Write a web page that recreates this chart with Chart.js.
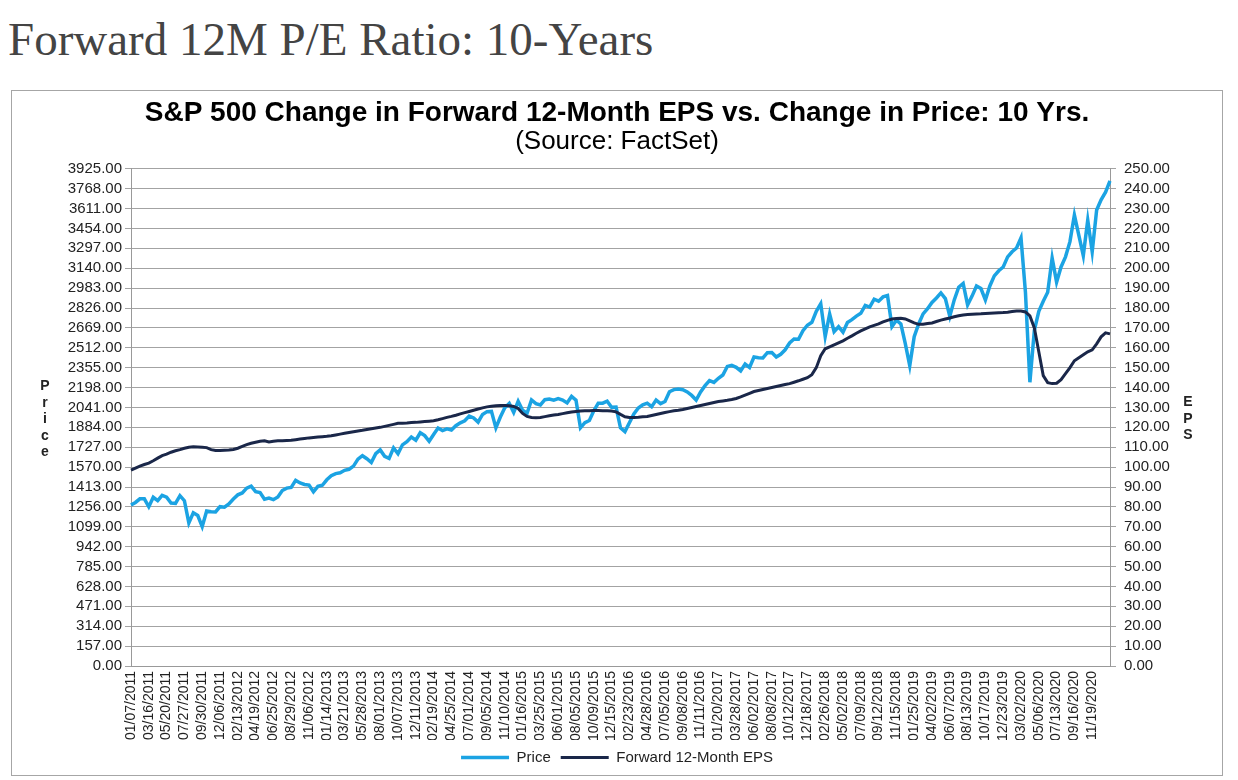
<!DOCTYPE html>
<html>
<head>
<meta charset="utf-8">
<script src="https://cdn.jsdelivr.net/npm/chart.js@4.4.1/dist/chart.umd.min.js"></script>
<style>
  body { margin: 0; background: #fff; width: 1238px; height: 780px; overflow: hidden; position: relative; font-family: "Liberation Sans", Arial, sans-serif; }
  #header { position: absolute; left: 8px; top: 12px; font-family: "Liberation Serif", serif; font-size: 47px; color: #444; white-space: nowrap; }
  #box { position: absolute; left: 11px; top: 90px; width: 1210px; height: 684px; border: 1px solid #a6a6a6; }
  #chartCanvas { position: absolute; left: 0; top: 0; }
  .vlabel { position: absolute; font-weight: bold; font-size: 14px; line-height: 16.5px; text-align: center; color: #222; width: 14px; }
</style>
</head>
<body>
<div id="header">Forward 12M P/E Ratio: 10-Years</div>
<div id="box"><canvas id="chartCanvas" width="1210" height="684"></canvas></div>
<div class="vlabel" style="left:38px; top:377px;">P<br>r<br>i<br>c<br>e</div>
<div class="vlabel" style="left:1181px; top:393px;">E<br>P<br>S</div>
<script>
// tick dates on the x axis, one every 4 samples
const tickDates = [
  "01/07/2011", "03/16/2011", "05/20/2011", "07/27/2011", "09/30/2011", "12/06/2011",
  "02/13/2012", "04/19/2012", "06/25/2012", "08/29/2012", "11/06/2012",
  "01/14/2013", "03/21/2013", "05/28/2013", "08/01/2013", "10/07/2013", "12/11/2013",
  "02/19/2014", "04/25/2014", "07/01/2014", "09/05/2014", "11/10/2014",
  "01/16/2015", "03/25/2015", "06/01/2015", "08/05/2015", "10/09/2015", "12/15/2015",
  "02/23/2016", "04/28/2016", "07/05/2016", "09/08/2016", "11/11/2016",
  "01/20/2017", "03/28/2017", "06/02/2017", "08/08/2017", "10/12/2017", "12/18/2017",
  "02/26/2018", "05/02/2018", "07/09/2018", "09/12/2018", "11/15/2018",
  "01/25/2019", "04/02/2019", "06/07/2019", "08/13/2019", "10/17/2019", "12/23/2019",
  "03/02/2020", "05/06/2020", "07/13/2020", "09/16/2020", "11/19/2020"
];
const samplesPerTick = 4;

// S&P 500 price (left axis)
const priceValues = [
  1271, 1291, 1320, 1320,  1257, 1332, 1305, 1347,  1333, 1286, 1284, 1345,
  1305, 1130, 1210, 1188,  1100, 1224, 1218, 1216,  1258, 1254, 1280, 1318,
  1351, 1366, 1404, 1419,  1376, 1369, 1316, 1325,  1313, 1334, 1385, 1404,
  1410, 1465, 1445, 1433,  1428, 1375, 1418, 1427,  1470, 1502, 1519, 1525,
  1545, 1553, 1578, 1633,  1660, 1636, 1606, 1676,  1706, 1655, 1639, 1722,
  1676, 1746, 1770, 1807,  1782, 1841, 1819, 1774,  1828, 1878, 1858, 1872,
  1863, 1897, 1920, 1936,  1973, 1958, 1925, 1986,  2008, 2010, 1880, 1965,
  2039, 2073, 2002, 2090,  2019, 1995, 2100, 2071,  2061, 2102, 2108, 2099,
  2111, 2100, 2077, 2128,  2099, 1880, 1921, 1938,  2014, 2075, 2075, 2090,
  2043, 2044, 1880, 1850,  1921, 1989, 2037, 2061,  2075, 2047, 2099, 2071,
  2088, 2165, 2182, 2186,  2181, 2164, 2136, 2100,  2164, 2213, 2253, 2239,
  2271, 2297, 2365, 2373,  2358, 2329, 2384, 2357,  2439, 2433, 2432, 2473,
  2474, 2439, 2461, 2496,  2550, 2581, 2579, 2647,  2690, 2713, 2800, 2860,
  2600, 2779, 2640, 2678,  2635, 2712, 2734, 2762,  2784, 2846, 2833, 2896,
  2880, 2914, 2925, 2680,  2730, 2700, 2545, 2370,  2600, 2700, 2780, 2820,
  2870, 2905, 2945, 2900,  2760, 2890, 2990, 3020,  2850, 2920, 3000, 2980,
  2890, 3000, 3080, 3120,  3150, 3230, 3270, 3300,  3380, 2950, 2240, 2650,
  2800, 2880, 2950, 3220,  3030, 3150, 3230, 3350,  3560, 3400, 3240, 3520,
  3270, 3600, 3680, 3740,  3830
];

// Forward 12-month EPS (right axis)
const epsValues = [
  98.5, 99.5, 100.5, 101.3,  102, 103.2, 104.5, 105.8,  106.5, 107.5, 108.2, 108.8,
  109.5, 110, 110.2, 110.1,  110, 109.8, 108.8, 108.4,  108.4, 108.5, 108.6, 108.9,
  109.5, 110.4, 111.3, 112,  112.5, 113, 113.2, 112.6,  113, 113.2, 113.3, 113.4,
  113.5, 113.8, 114.1, 114.4,  114.7, 114.9, 115.1, 115.3,  115.5, 115.8, 116.2, 116.6,
  117, 117.4, 117.8, 118.2,  118.5, 118.9, 119.3, 119.7,  120, 120.5, 121, 121.5,
  122, 122.1, 122.2, 122.4,  122.5, 122.7, 122.9, 123.1,  123.3, 123.8, 124.4, 125,
  125.5, 126.1, 126.8, 127.4,  128, 128.6, 129.2, 129.8,  130.3, 130.6, 130.9, 131,
  131, 130.8, 130.5, 129.5,  127, 125.5, 125, 124.8,  125, 125.4, 125.8, 126.2,
  126.5, 126.9, 127.3, 127.7,  128, 128.2, 128.3, 128.4,  128.5, 128.5, 128.4, 128.3,
  128.2, 127.8, 126.5, 125.3,  125, 125, 125.1, 125.3,  125.5, 126, 126.5, 127,
  127.5, 127.9, 128.3, 128.6,  129, 129.5, 130, 130.5,  131, 131.5, 132, 132.5,
  133, 133.3, 133.6, 134,  134.5, 135.3, 136.2, 137.1,  138, 138.5, 139, 139.5,
  140, 140.5, 141, 141.5,  142, 142.7, 143.4, 144.2,  145, 146.5, 150, 156,
  159.5, 160.5, 161.5, 162.5,  163.5, 164.8, 166, 167.3,  168.5, 169.5, 170.5, 171.3,
  172, 173, 173.8, 174.5,  174.7, 174.8, 174.5, 173.5,  172.5, 171.8, 171.8, 172.2,
  172.5, 173.2, 173.9, 174.5,  175, 175.6, 176.1, 176.5,  176.7, 176.9, 177, 177.1,
  177.3, 177.4, 177.5, 177.6,  177.7, 177.9, 178.2, 178.5,  178.5, 178, 176, 170,
  158, 146, 142.5, 142,  142.2, 144, 147, 150,  153.5, 155, 156.5, 158,
  159, 162, 165.5, 167.5,  167
];

const labels = priceValues.map((v, i) =>
  i % samplesPerTick === 0 ? (tickDates[i / samplesPerTick] || "") : "");

Chart.defaults.font.family = '"Liberation Sans", Arial, sans-serif';
Chart.defaults.color = "#222";

const priceColor = "#1ba3e3";
const epsColor = "#1a2749";
const gridColor = "#a3a3a3";

new Chart(document.getElementById("chartCanvas"), {
  type: "line",
  data: {
    labels: labels,
    datasets: [
      {
        label: "Price",
        data: priceValues,
        yAxisID: "yPrice",
        borderColor: priceColor,
        backgroundColor: priceColor,
        borderWidth: 3.5,
        pointRadius: 0,
        order: 1
      },
      {
        label: "Forward 12-Month EPS",
        data: epsValues,
        yAxisID: "yEps",
        borderColor: epsColor,
        backgroundColor: epsColor,
        borderWidth: 3,
        pointRadius: 0,
        order: 0
      }
    ]
  },
  options: {
    responsive: false,
    animation: false,
    layout: { padding: { top: 1, bottom: 0, left: 0, right: 0 } },
    plugins: {
      title: {
        display: true,
        text: "S&P 500 Change in Forward 12-Month EPS vs. Change in Price: 10 Yrs.",
        font: { size: 28, weight: "bold", lineHeight: 1.1 },
        color: "#000",
        padding: { top: 6, bottom: 0 }
      },
      subtitle: {
        display: true,
        text: "(Source: FactSet)",
        font: { size: 26, lineHeight: 1.0 },
        color: "#000",
        padding: { top: 0, bottom: 14 }
      },
      legend: {
        position: "bottom",
        labels: {
          usePointStyle: true,
          pointStyle: "line",
          pointStyleWidth: 48,
          font: { size: 15 },
          color: "#222",
          padding: 10,
          sort: (a, b) => a.datasetIndex - b.datasetIndex
        }
      },
      tooltip: { enabled: false }
    },
    scales: {
      x: {
        type: "category",
        offset: false,
        grid: { display: false, drawTicks: false },
        border: { color: "#999" },
        ticks: { autoSkip: false, maxRotation: 90, minRotation: 90, padding: 5, font: { size: 14 }, color: "#222" },
        afterFit: s => { s.height = 74; }
      },
      yPrice: {
        position: "left",
        min: 0,
        max: 3925,
        border: { color: "#999" },
        grid: { color: gridColor, tickLength: 6 },
        ticks: { stepSize: 157, autoSkip: false, padding: 3, font: { size: 15 }, color: "#222",
                 callback: v => v.toFixed(2) },
        afterFit: s => { s.width = 119; }
      },
      yEps: {
        position: "right",
        min: 0,
        max: 250,
        border: { color: "#999" },
        grid: { drawOnChartArea: false, color: gridColor, tickLength: 6 },
        ticks: { stepSize: 10, autoSkip: false, padding: 8, font: { size: 15 }, color: "#222",
                 callback: v => v.toFixed(2) },
        afterFit: s => { s.width = 112; }
      }
    }
  }
});
</script>
</body>
</html>
